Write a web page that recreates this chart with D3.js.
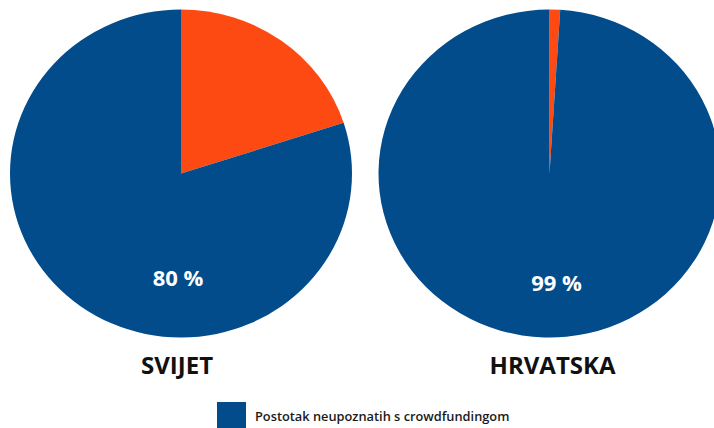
<!DOCTYPE html>
<html>
<head>
<meta charset="utf-8">
<script src="https://cdn.jsdelivr.net/npm/d3@7"></script>
<style>
  html, body { margin: 0; padding: 0; background: #fff; }
  svg { display: block; font-family: "Open Sans", sans-serif; }
</style>
</head>
<body>
<div id="chart"></div>
<script>
// data
var regions = ["SVIJET", "HRVATSKA"];
var unknownPct = [80, 99];   // not familiar with crowdfunding
var knownPct = [20, 1];
var pctLabels = ["80 %", "99 %"];
var legendLabels = ["Postotak neupoznatih s crowdfundingom"];

var width = 714, height = 428;
var rx = 171, ry = 164; // source image is slightly squashed vertically
var centers = [[181, 173.5], [549.5, 173.5]];

var colors = { unknown: "#024c8c", known: "#fd4a13" };

var svg = d3.select("#chart")
  .append("svg")
  .attr("width", width)
  .attr("height", height);

var pie = d3.pie()
  .sort(null)
  .value(function (d) { return d.value; });

var arc = d3.arc().innerRadius(0).outerRadius(rx);

regions.forEach(function (name, i) {
  // known slice first so it starts at 12 o'clock going clockwise
  var slices = [
    { key: "known", value: knownPct[i] },
    { key: "unknown", value: unknownPct[i] }
  ];

  var g = svg.append("g")
    .attr("transform", "translate(" + centers[i][0] + "," + centers[i][1] + ")");

  g.append("g")
    .attr("transform", "scale(1," + (ry / rx) + ")")
    .selectAll("path")
    .data(pie(slices))
    .enter()
    .append("path")
    .attr("d", arc)
    .attr("fill", function (d) { return colors[d.data.key]; });

  // value label sits low inside the blue slice
  g.append("text")
    .attr("x", i === 0 ? -3 : 7)
    .attr("y", i === 0 ? 103 : 108)
    .attr("text-anchor", "middle")
    .attr("dominant-baseline", "central")
    .style("font-size", "22px")
    .style("font-weight", "700")
    .style("fill", "#fff")
    .text(pctLabels[i]);

  // region name under the pie
  g.append("text")
    .attr("x", i === 0 ? -4 : 3)
    .attr("y", 191)
    .attr("text-anchor", "middle")
    .attr("dominant-baseline", "central")
    .style("font-size", "24px")
    .style("font-weight", "700")
    .style("fill", "#111")
    .text(name);
});

// legend
var legend = svg.append("g").attr("transform", "translate(217,402)");
legend.append("rect")
  .attr("width", 29)
  .attr("height", 30)
  .attr("fill", colors.unknown);
legend.append("text")
  .attr("x", 38)
  .attr("y", 14)
  .attr("dominant-baseline", "central")
  .style("font-size", "12.8px")
  .style("font-weight", "600")
  .style("fill", "#1a1a1a")
  .text(legendLabels[0]);
</script>
</body>
</html>
